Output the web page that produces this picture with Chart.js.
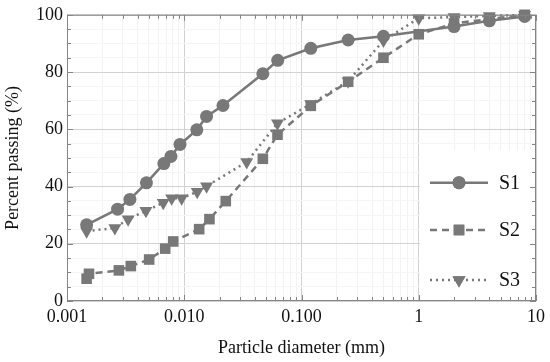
<!DOCTYPE html>
<html>
<head>
<meta charset="utf-8">
<script src="https://cdn.jsdelivr.net/npm/chart.js@4.4.1/dist/chart.umd.min.js"></script>
<style>
  body { margin: 0; background: #fff; }
</style>
</head>
<body>
<canvas id="chart" width="550" height="362"></canvas>
<script>
// particle diameter (mm) and percent passing
const s1Diam = [0.00147, 0.0027, 0.00344, 0.00476, 0.0067, 0.0077, 0.0092, 0.0128, 0.0155, 0.0214, 0.0468, 0.0627, 0.12, 0.25, 0.5, 2, 4, 8];
const s1Pass = [26.6, 32.1, 35.5, 41.3, 48.0, 50.5, 54.7, 59.8, 64.5, 68.3, 79.4, 84.1, 88.3, 91.2, 92.5, 95.9, 97.9, 99.4];

const s2Diam = [0.00147, 0.00154, 0.00277, 0.0035, 0.00502, 0.00688, 0.00805, 0.0134, 0.0164, 0.0226, 0.0468, 0.0624, 0.12, 0.25, 0.5, 1, 2, 4, 8];
const s2Pass = [7.8, 9.5, 10.7, 12.2, 14.5, 18.3, 20.8, 25.1, 28.6, 34.9, 49.7, 58.1, 68.2, 76.6, 85.0, 93.2, 97.0, 98.5, 100];

const s3Diam = [0.00147, 0.00256, 0.00332, 0.00471, 0.00662, 0.00781, 0.0095, 0.0129, 0.0155, 0.0341, 0.0624, 0.12, 0.25, 0.5, 1, 2, 4, 8];
const s3Pass = [24.4, 25.5, 28.6, 31.5, 34.3, 35.9, 35.9, 38.2, 40.1, 48.6, 62.1, 68.8, 76.8, 91.0, 98.8, 99.2, 99.6, 100];

const seriesNames = ["S1", "S2", "S3"];
const xMajorTicks = [0.001, 0.01, 0.1, 1, 10];
const xTickLabels = ["0.001", "0.010", "0.100", "1", "10"];
const yTickLabels = [0, 20, 40, 60, 80, 100];

const grey = "#787878";
const serif = "'Liberation Serif', 'DejaVu Serif', serif";

function toPoints(xs, ys) {
    return xs.map((x, i) => ({ x: x, y: ys[i] }));
}

function isMajorX(v) {
    return xMajorTicks.some((m) => Math.abs(v - m) / m < 1e-6);
}

// line styles per series, also used for the legend
const styles = [
    { dash: [], point: "circle", radius: 6.5, rotation: 0 },
    { dash: [7, 5], point: "rect", radius: 7.5, rotation: 0 },
    { dash: [2, 4], point: "triangle", radius: 7.5, rotation: 180 },
];

const datasets = [
    toPoints(s1Diam, s1Pass),
    toPoints(s2Diam, s2Pass),
    toPoints(s3Diam, s3Pass),
].map((pts, i) => ({
    label: seriesNames[i],
    data: pts,
    order: i,
    borderColor: grey,
    backgroundColor: grey,
    borderWidth: 2.5,
    borderDash: styles[i].dash,
    pointStyle: styles[i].point,
    pointRadius: styles[i].radius,
    pointRotation: styles[i].rotation,
    pointBorderWidth: 0,
    pointBackgroundColor: grey,
    tension: 0,
    clip: false,
}));

// box, inward ticks and legend drawn in the plot corner
const framePlugin = {
    id: "frame",
    beforeDatasetsDraw(chart) {
        const ctx = chart.ctx;
        const a = chart.chartArea;
        const boxLeft = chart.scales.x.getPixelForValue(1) + 1;
        const boxTop = 150;
        ctx.save();
        ctx.fillStyle = "#fff";
        ctx.fillRect(boxLeft, boxTop, a.right - boxLeft - 1, a.bottom - boxTop - 1);

        const rows = [182.7, 230, 280];
        rows.forEach((ry, i) => {
            ctx.strokeStyle = grey;
            ctx.lineWidth = 2.5;
            ctx.setLineDash(styles[i].dash);
            ctx.beginPath();
            ctx.moveTo(430, ry);
            ctx.lineTo(488, ry);
            ctx.stroke();
            ctx.setLineDash([]);
            ctx.fillStyle = grey;
            Chart.helpers.drawPoint(ctx, {
                pointStyle: styles[i].point,
                radius: styles[i].radius,
                rotation: styles[i].rotation,
                borderWidth: 0,
            }, 459, ry);
            ctx.fill();
            ctx.fillStyle = "#111";
            ctx.font = "20px " + serif;
            ctx.textBaseline = "middle";
            ctx.fillText(seriesNames[i], 499, ry + 1);
        });
        ctx.restore();
    },
    afterDraw(chart) {
        const ctx = chart.ctx;
        const a = chart.chartArea;
        const xs = chart.scales.x;
        const ys = chart.scales.y;
        ctx.save();
        ctx.strokeStyle = "#858585";
        ctx.lineWidth = 1;
        ctx.strokeRect(a.left + 0.5, a.top + 0.5, a.right - a.left - 1, a.bottom - a.top - 1);
        ctx.beginPath();
        xs.ticks.forEach((t) => {
            const px = Math.round(xs.getPixelForValue(t.value)) + 0.5;
            const len = isMajorX(t.value) ? 6 : 4;
            ctx.moveTo(px, a.bottom);
            ctx.lineTo(px, a.bottom - len);
            ctx.moveTo(px, a.top);
            ctx.lineTo(px, a.top + len);
        });
        ys.ticks.forEach((t) => {
            const py = Math.round(ys.getPixelForValue(t.value)) + 0.5;
            const len = t.value % 20 === 0 ? 6 : 4;
            ctx.moveTo(a.left, py);
            ctx.lineTo(a.left + len, py);
            ctx.moveTo(a.right, py);
            ctx.lineTo(a.right - len, py);
        });
        ctx.stroke();
        ctx.restore();
    },
};

new Chart(document.getElementById("chart"), {
    type: "line",
    data: { datasets: datasets },
    options: {
        responsive: false,
        animation: false,
        layout: { padding: { top: 13, right: 14, left: 0, bottom: 0 } },
        plugins: {
            legend: { display: false },
            tooltip: { enabled: false },
        },
        scales: {
            x: {
                type: "logarithmic",
                min: 0.001,
                max: 10,
                afterBuildTicks(axis) {
                    const t = [];
                    for (let e = -3; e <= 0; e++) {
                        for (let m = 1; m <= 9; m++) {
                            t.push({ value: m * Math.pow(10, e) });
                        }
                    }
                    t.push({ value: 10 });
                    axis.ticks = t;
                },
                afterFit(axis) {
                    axis.height = 61;
                },
                ticks: {
                    autoSkip: false,
                    maxRotation: 0,
                    padding: 5,
                    color: "#111",
                    font: { family: serif, size: 18 },
                    callback: function (v) {
                        const i = xMajorTicks.findIndex((m) => Math.abs(v - m) / m < 1e-6);
                        return i >= 0 ? xTickLabels[i] : "";
                    },
                },
                grid: {
                    drawTicks: false,
                    color: (c) => (c.tick && isMajorX(c.tick.value) ? "#d2d2d2" : "#f3f3f3"),
                },
                border: { display: false },
                title: {
                    display: true,
                    text: "Particle diameter (mm)",
                    color: "#111",
                    font: { family: serif, size: 18 },
                    padding: { top: 0, bottom: 3 },
                },
            },
            y: {
                min: 0,
                max: 100,
                afterBuildTicks(axis) {
                    const t = [];
                    for (let v = 0; v <= 100; v += 5) t.push({ value: v });
                    axis.ticks = t;
                },
                afterFit(axis) {
                    axis.width = 67;
                },
                ticks: {
                    autoSkip: false,
                    padding: 4,
                    color: "#111",
                    font: { family: serif, size: 18 },
                    callback: (v) => (yTickLabels.includes(v) ? String(v) : ""),
                },
                grid: {
                    drawTicks: false,
                    color: (c) => (c.tick && c.tick.value % 20 === 0 ? "#d2d2d2" : "#f5f5f5"),
                },
                border: { display: false },
                title: {
                    display: true,
                    text: "Percent passing (%)",
                    color: "#111",
                    font: { family: serif, size: 18 },
                    padding: { top: 2, bottom: 0 },
                },
            },
        },
    },
    plugins: [framePlugin],
});
</script>
</body>
</html>
